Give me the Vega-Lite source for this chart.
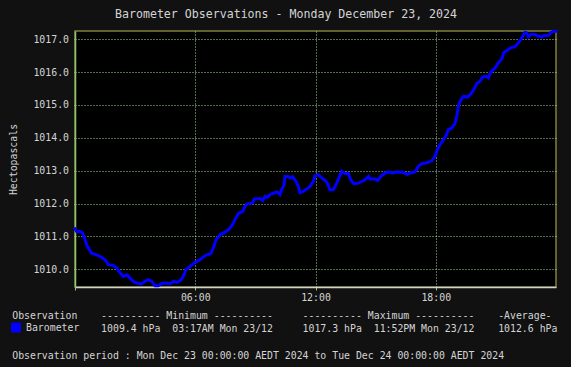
{
  "$schema": "https://vega.github.io/schema/vega-lite/v6.json",
  "autosize": {"type": "none"},
  "padding": {"left": 75, "top": 31, "right": 15, "bottom": 80},
  "width": 481,
  "height": 256,
  "background": "#111111",
  "config": {
    "view": {"fill": "#000000", "stroke": "#7f7f3f", "strokeWidth": 1.5}
  },
  "title": {
    "text": "Barometer Observations - Monday December 23, 2024",
    "anchor": "start",
    "frame": "group",
    "dx": 40,
    "dy": 16,
    "baseline": "alphabetic",
    "offset": 11.5,
    "font": "DejaVu Sans Mono",
    "fontSize": 11.6,
    "fontWeight": "normal",
    "color": "#d4d4d4"
  },
  "data": {
    "values": [
      {"t": 0.0, "hPa": 1011.23, "s": "Barometer"},
      {"t": 0.08, "hPa": 1011.15, "s": "Barometer"},
      {"t": 0.25, "hPa": 1011.15, "s": "Barometer"},
      {"t": 0.38, "hPa": 1011.1, "s": "Barometer"},
      {"t": 0.5, "hPa": 1010.9, "s": "Barometer"},
      {"t": 0.58, "hPa": 1010.75, "s": "Barometer"},
      {"t": 0.66, "hPa": 1010.65, "s": "Barometer"},
      {"t": 0.83, "hPa": 1010.49, "s": "Barometer"},
      {"t": 1.08, "hPa": 1010.44, "s": "Barometer"},
      {"t": 1.33, "hPa": 1010.36, "s": "Barometer"},
      {"t": 1.5, "hPa": 1010.29, "s": "Barometer"},
      {"t": 1.66, "hPa": 1010.14, "s": "Barometer"},
      {"t": 1.91, "hPa": 1010.12, "s": "Barometer"},
      {"t": 2.08, "hPa": 1010.04, "s": "Barometer"},
      {"t": 2.25, "hPa": 1009.89, "s": "Barometer"},
      {"t": 2.41, "hPa": 1009.78, "s": "Barometer"},
      {"t": 2.61, "hPa": 1009.83, "s": "Barometer"},
      {"t": 2.74, "hPa": 1009.73, "s": "Barometer"},
      {"t": 2.91, "hPa": 1009.63, "s": "Barometer"},
      {"t": 3.08, "hPa": 1009.58, "s": "Barometer"},
      {"t": 3.33, "hPa": 1009.56, "s": "Barometer"},
      {"t": 3.49, "hPa": 1009.63, "s": "Barometer"},
      {"t": 3.66, "hPa": 1009.68, "s": "Barometer"},
      {"t": 3.83, "hPa": 1009.63, "s": "Barometer"},
      {"t": 3.99, "hPa": 1009.5, "s": "Barometer"},
      {"t": 4.16, "hPa": 1009.5, "s": "Barometer"},
      {"t": 4.33, "hPa": 1009.57, "s": "Barometer"},
      {"t": 4.58, "hPa": 1009.58, "s": "Barometer"},
      {"t": 4.74, "hPa": 1009.56, "s": "Barometer"},
      {"t": 4.91, "hPa": 1009.63, "s": "Barometer"},
      {"t": 5.1, "hPa": 1009.6, "s": "Barometer"},
      {"t": 5.32, "hPa": 1009.7, "s": "Barometer"},
      {"t": 5.44, "hPa": 1009.83, "s": "Barometer"},
      {"t": 5.54, "hPa": 1009.99, "s": "Barometer"},
      {"t": 5.74, "hPa": 1010.09, "s": "Barometer"},
      {"t": 5.99, "hPa": 1010.21, "s": "Barometer"},
      {"t": 6.24, "hPa": 1010.29, "s": "Barometer"},
      {"t": 6.4, "hPa": 1010.37, "s": "Barometer"},
      {"t": 6.57, "hPa": 1010.44, "s": "Barometer"},
      {"t": 6.77, "hPa": 1010.47, "s": "Barometer"},
      {"t": 6.9, "hPa": 1010.65, "s": "Barometer"},
      {"t": 7.04, "hPa": 1010.9, "s": "Barometer"},
      {"t": 7.24, "hPa": 1011.05, "s": "Barometer"},
      {"t": 7.4, "hPa": 1011.1, "s": "Barometer"},
      {"t": 7.65, "hPa": 1011.2, "s": "Barometer"},
      {"t": 7.82, "hPa": 1011.32, "s": "Barometer"},
      {"t": 7.98, "hPa": 1011.51, "s": "Barometer"},
      {"t": 8.15, "hPa": 1011.69, "s": "Barometer"},
      {"t": 8.37, "hPa": 1011.76, "s": "Barometer"},
      {"t": 8.48, "hPa": 1011.91, "s": "Barometer"},
      {"t": 8.6, "hPa": 1011.99, "s": "Barometer"},
      {"t": 8.87, "hPa": 1012.02, "s": "Barometer"},
      {"t": 8.95, "hPa": 1012.14, "s": "Barometer"},
      {"t": 9.23, "hPa": 1012.15, "s": "Barometer"},
      {"t": 9.37, "hPa": 1012.09, "s": "Barometer"},
      {"t": 9.48, "hPa": 1012.22, "s": "Barometer"},
      {"t": 9.6, "hPa": 1012.19, "s": "Barometer"},
      {"t": 9.73, "hPa": 1012.27, "s": "Barometer"},
      {"t": 9.93, "hPa": 1012.32, "s": "Barometer"},
      {"t": 10.09, "hPa": 1012.35, "s": "Barometer"},
      {"t": 10.23, "hPa": 1012.27, "s": "Barometer"},
      {"t": 10.31, "hPa": 1012.42, "s": "Barometer"},
      {"t": 10.43, "hPa": 1012.57, "s": "Barometer"},
      {"t": 10.48, "hPa": 1012.82, "s": "Barometer"},
      {"t": 10.64, "hPa": 1012.82, "s": "Barometer"},
      {"t": 10.76, "hPa": 1012.78, "s": "Barometer"},
      {"t": 10.86, "hPa": 1012.82, "s": "Barometer"},
      {"t": 11.03, "hPa": 1012.67, "s": "Barometer"},
      {"t": 11.14, "hPa": 1012.52, "s": "Barometer"},
      {"t": 11.23, "hPa": 1012.33, "s": "Barometer"},
      {"t": 11.39, "hPa": 1012.37, "s": "Barometer"},
      {"t": 11.56, "hPa": 1012.44, "s": "Barometer"},
      {"t": 11.73, "hPa": 1012.52, "s": "Barometer"},
      {"t": 11.89, "hPa": 1012.67, "s": "Barometer"},
      {"t": 11.98, "hPa": 1012.85, "s": "Barometer"},
      {"t": 12.14, "hPa": 1012.88, "s": "Barometer"},
      {"t": 12.31, "hPa": 1012.78, "s": "Barometer"},
      {"t": 12.48, "hPa": 1012.7, "s": "Barometer"},
      {"t": 12.59, "hPa": 1012.62, "s": "Barometer"},
      {"t": 12.72, "hPa": 1012.42, "s": "Barometer"},
      {"t": 12.89, "hPa": 1012.42, "s": "Barometer"},
      {"t": 13.06, "hPa": 1012.62, "s": "Barometer"},
      {"t": 13.19, "hPa": 1012.82, "s": "Barometer"},
      {"t": 13.31, "hPa": 1012.98, "s": "Barometer"},
      {"t": 13.47, "hPa": 1012.91, "s": "Barometer"},
      {"t": 13.64, "hPa": 1012.91, "s": "Barometer"},
      {"t": 13.76, "hPa": 1012.72, "s": "Barometer"},
      {"t": 13.92, "hPa": 1012.6, "s": "Barometer"},
      {"t": 14.14, "hPa": 1012.62, "s": "Barometer"},
      {"t": 14.31, "hPa": 1012.67, "s": "Barometer"},
      {"t": 14.47, "hPa": 1012.72, "s": "Barometer"},
      {"t": 14.64, "hPa": 1012.82, "s": "Barometer"},
      {"t": 14.72, "hPa": 1012.75, "s": "Barometer"},
      {"t": 14.97, "hPa": 1012.75, "s": "Barometer"},
      {"t": 15.1, "hPa": 1012.7, "s": "Barometer"},
      {"t": 15.25, "hPa": 1012.82, "s": "Barometer"},
      {"t": 15.47, "hPa": 1012.93, "s": "Barometer"},
      {"t": 15.68, "hPa": 1012.96, "s": "Barometer"},
      {"t": 15.85, "hPa": 1012.93, "s": "Barometer"},
      {"t": 16.05, "hPa": 1012.96, "s": "Barometer"},
      {"t": 16.38, "hPa": 1012.95, "s": "Barometer"},
      {"t": 16.58, "hPa": 1012.88, "s": "Barometer"},
      {"t": 16.72, "hPa": 1012.93, "s": "Barometer"},
      {"t": 16.97, "hPa": 1012.96, "s": "Barometer"},
      {"t": 17.13, "hPa": 1013.13, "s": "Barometer"},
      {"t": 17.3, "hPa": 1013.21, "s": "Barometer"},
      {"t": 17.55, "hPa": 1013.24, "s": "Barometer"},
      {"t": 17.8, "hPa": 1013.3, "s": "Barometer"},
      {"t": 17.96, "hPa": 1013.43, "s": "Barometer"},
      {"t": 18.08, "hPa": 1013.64, "s": "Barometer"},
      {"t": 18.21, "hPa": 1013.79, "s": "Barometer"},
      {"t": 18.38, "hPa": 1013.94, "s": "Barometer"},
      {"t": 18.51, "hPa": 1014.06, "s": "Barometer"},
      {"t": 18.63, "hPa": 1014.25, "s": "Barometer"},
      {"t": 18.8, "hPa": 1014.3, "s": "Barometer"},
      {"t": 18.96, "hPa": 1014.43, "s": "Barometer"},
      {"t": 19.05, "hPa": 1014.65, "s": "Barometer"},
      {"t": 19.13, "hPa": 1014.96, "s": "Barometer"},
      {"t": 19.21, "hPa": 1015.11, "s": "Barometer"},
      {"t": 19.38, "hPa": 1015.26, "s": "Barometer"},
      {"t": 19.6, "hPa": 1015.24, "s": "Barometer"},
      {"t": 19.75, "hPa": 1015.34, "s": "Barometer"},
      {"t": 19.88, "hPa": 1015.44, "s": "Barometer"},
      {"t": 20.05, "hPa": 1015.65, "s": "Barometer"},
      {"t": 20.21, "hPa": 1015.72, "s": "Barometer"},
      {"t": 20.34, "hPa": 1015.85, "s": "Barometer"},
      {"t": 20.51, "hPa": 1015.87, "s": "Barometer"},
      {"t": 20.62, "hPa": 1015.82, "s": "Barometer"},
      {"t": 20.74, "hPa": 1015.99, "s": "Barometer"},
      {"t": 20.96, "hPa": 1016.12, "s": "Barometer"},
      {"t": 21.12, "hPa": 1016.28, "s": "Barometer"},
      {"t": 21.29, "hPa": 1016.4, "s": "Barometer"},
      {"t": 21.41, "hPa": 1016.6, "s": "Barometer"},
      {"t": 21.57, "hPa": 1016.66, "s": "Barometer"},
      {"t": 21.71, "hPa": 1016.73, "s": "Barometer"},
      {"t": 21.96, "hPa": 1016.78, "s": "Barometer"},
      {"t": 22.12, "hPa": 1016.88, "s": "Barometer"},
      {"t": 22.29, "hPa": 1017.04, "s": "Barometer"},
      {"t": 22.46, "hPa": 1017.21, "s": "Barometer"},
      {"t": 22.54, "hPa": 1017.19, "s": "Barometer"},
      {"t": 22.62, "hPa": 1017.07, "s": "Barometer"},
      {"t": 22.74, "hPa": 1017.14, "s": "Barometer"},
      {"t": 22.95, "hPa": 1017.14, "s": "Barometer"},
      {"t": 23.12, "hPa": 1017.09, "s": "Barometer"},
      {"t": 23.29, "hPa": 1017.07, "s": "Barometer"},
      {"t": 23.41, "hPa": 1017.11, "s": "Barometer"},
      {"t": 23.62, "hPa": 1017.11, "s": "Barometer"},
      {"t": 23.75, "hPa": 1017.21, "s": "Barometer"},
      {"t": 23.9, "hPa": 1017.24, "s": "Barometer"},
      {"t": 24.0, "hPa": 1017.24, "s": "Barometer"}
    ]
  },
  "mark": {"type": "line", "strokeWidth": 3, "strokeJoin": "miter", "strokeCap": "square"},
  "encoding": {
    "x": {
      "field": "t",
      "type": "quantitative",
      "scale": {"domain": [0, 24], "nice": false, "zero": false},
      "axis": {
        "values": [0, 6, 12, 18],
        "labelExpr": "datum.value == 0 ? '' : ((datum.value < 10 ? '0' : '') + datum.value + ':00')",
        "domainColor": "#d0d0d0",
        "domainWidth": 1.5,
        "grid": true,
        "gridColor": "#a8d8a0",
        "gridDash": [1, 2],
        "gridWidth": 1,
        "gridOpacity": {"condition": {"test": "datum.value == 0", "value": 0}, "value": 1},
        "tickColor": "#8cc870",
        "tickSize": 3,
        "labelFont": "DejaVu Sans Mono",
        "labelFontSize": 9.85,
        "labelColor": "#d4d4d4",
        "labelPadding": 2,
        "labelFlush": false,
        "title": [
          "Observation\u00a0\u00a0\u00a0\u00a0----------\u00a0Minimum\u00a0----------\u00a0\u00a0\u00a0\u00a0\u00a0----------\u00a0Maximum\u00a0----------\u00a0\u00a0\u00a0\u00a0-Average-",
          "\u200b\u00a0\u00a0\u00a0\u00a0\u00a0\u00a0\u00a0\u00a0\u00a0\u00a0\u00a0\u00a0\u00a0\u00a0\u00a01009.4\u00a0hPa\u00a0\u00a003:17AM\u00a0Mon\u00a023/12\u00a0\u00a0\u00a0\u00a0\u00a01017.3\u00a0hPa\u00a0\u00a011:52PM\u00a0Mon\u00a023/12\u00a0\u00a0\u00a0\u00a01012.6\u00a0hPa",
          "\u200b",
          "Observation\u00a0period\u00a0:\u00a0Mon\u00a0Dec\u00a023\u00a000:00:00\u00a0AEDT\u00a02024\u00a0to\u00a0Tue\u00a0Dec\u00a024\u00a000:00:00\u00a0AEDT\u00a02024"
        ],
        "titleFont": "DejaVu Sans Mono",
        "titleFontSize": 9.85,
        "titleFontWeight": "normal",
        "titleColor": "#d4d4d4",
        "titleAnchor": "start",
        "titleAlign": "left",
        "titleBaseline": "alphabetic",
        "titleX": -63.3,
        "titleY": 31,
        "titleLineHeight": 13.6
      }
    },
    "y": {
      "field": "hPa",
      "type": "quantitative",
      "scale": {"domain": [1009.46, 1017.25], "nice": false, "zero": false},
      "axis": {
        "values": [1010, 1011, 1012, 1013, 1014, 1015, 1016, 1017],
        "format": ".1f",
        "domainColor": "#8cc870",
        "domainWidth": 1.5,
        "grid": true,
        "gridColor": "#a8d8a0",
        "gridDash": [1, 2],
        "gridWidth": 1,
        "tickColor": "#a8d8a0",
        "tickDash": [1, 2],
        "tickSize": 3,
        "labelFont": "DejaVu Sans Mono",
        "labelFontSize": 9.85,
        "labelColor": "#d4d4d4",
        "labelPadding": 3.5,
        "title": "Hectopascals",
        "titleFont": "DejaVu Sans Mono",
        "titleFontSize": 9.85,
        "titleFontWeight": "normal",
        "titleColor": "#d4d4d4",
        "titleAngle": 270,
        "titleAlign": "center",
        "titleBaseline": "alphabetic",
        "titleX": -58.3,
        "titleY": 128
      }
    },
    "color": {
      "field": "s",
      "type": "nominal",
      "scale": {"range": ["#0000ff"]},
      "legend": {
        "orient": "none",
        "legendX": -64,
        "legendY": 291.5,
        "title": null,
        "padding": 0,
        "symbolType": "square",
        "symbolSize": 81,
        "labelFont": "DejaVu Sans Mono",
        "labelFontSize": 9.85,
        "labelColor": "#d4d4d4",
        "labelOffset": 5,
        "encode": {
          "symbols": {
            "update": {
              "fill": {"value": "#0000ff"},
              "stroke": {"value": "#8c8c8c"},
              "strokeWidth": {"value": 1},
              "shape": {"value": "square"},
              "size": {"value": 81}
            }
          }
        }
      }
    }
  }
}
